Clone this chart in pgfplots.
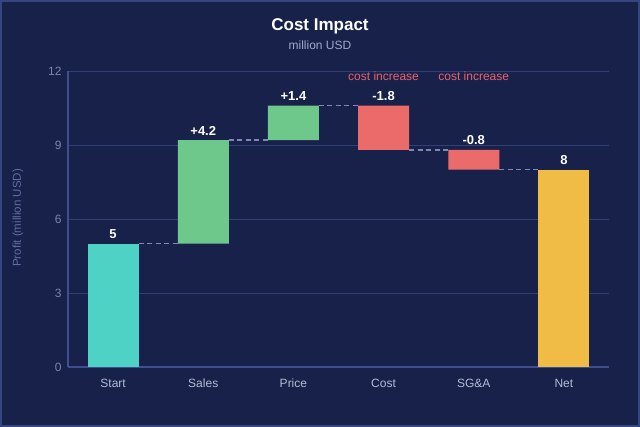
\documentclass[border=0pt]{standalone}
\usepackage{pgfplots}
\usepackage{pgfplotstable}
\pgfplotsset{compat=1.18}
\usepackage{fontspec}
\setmainfont{Liberation Sans}
\definecolor{bg}{HTML}{18214A}
\definecolor{bordc}{HTML}{34457F}
\definecolor{gridc}{HTML}{303F76}
\definecolor{axisc}{HTML}{3E4E8E}
\definecolor{ytc}{HTML}{7C85AD}
\definecolor{xtc}{HTML}{B4BBD6}
\definecolor{ylc}{HTML}{636D9E}
\definecolor{subc}{HTML}{A0A8CC}
\definecolor{connc}{HTML}{7F89B3}
\definecolor{cteal}{HTML}{4ED2C5}
\definecolor{cgreen}{HTML}{6EC88C}
\definecolor{cred}{HTML}{EB6B6B}
\definecolor{cyellow}{HTML}{F0BC46}
\definecolor{ctext}{HTML}{E8646A}
\pgfplotstableread{
x base teal green red yellow
0 0   5   0   0   0
1 5   0   4.2 0   0
2 9.2 0   1.4 0   0
3 8.8 0   0   1.8 0
4 8.0 0   0   0.8 0
5 0   0   0   0   8
}\wfdata
\tikzset{vlab/.style={font=\bfseries\fontsize{13}{15}\selectfont, text=white, anchor=south, yshift=1.5pt}}
\begin{document}
\begin{tikzpicture}[x=1pt,y=1pt]
\fill[bg] (0,0) rectangle (640,427);
\draw[bordc, line width=2pt] (1,1) rectangle (639,426);
\node[font=\bfseries\fontsize{17}{20}\selectfont, text=white] at (320,401) {Cost Impact};
\node[font=\fontsize{12}{14}\selectfont, text=subc] at (320,382) {million USD};
\node[font=\fontsize{11.5}{13}\selectfont, text=ylc, rotate=90] at (18,209) {Profit (million USD)};
\begin{axis}[at={(68pt,60pt)}, anchor=south west, scale only axis,
  width=541pt, height=296pt,
  xmin=-0.5, xmax=5.5, ymin=0, ymax=12,
  ytick={0,3,6,9,12}, xtick={0,...,5},
  xticklabels={Start,Sales,Price,Cost,SG\&A,Net},
  axis x line*=bottom, axis y line*=left,
  axis line style={color=axisc, line width=1.2pt},
  ymajorgrids, grid style={gridc, line width=0.9pt},
  tick style={draw=none},
  /pgf/number format/assume math mode=true,
  yticklabel style={text=ytc, font=\fontsize{12}{14}\selectfont, xshift=-3pt},
  xticklabel style={text=xtc, font=\fontsize{12}{14}\selectfont, yshift=-8pt, text height=8.7pt, text depth=2.5pt},
  clip=false]
\addplot[connc, dash pattern=on 5pt off 3.5pt, line width=1.5pt, no markers] coordinates {(0.283,5) (0.717,5)};
\addplot[connc, dash pattern=on 5pt off 3.5pt, line width=1.5pt, no markers] coordinates {(1.283,9.2) (1.717,9.2)};
\addplot[connc, dash pattern=on 5pt off 3.5pt, line width=1.5pt, no markers] coordinates {(2.283,10.6) (2.717,10.6)};
\addplot[connc, dash pattern=on 5pt off 3.5pt, line width=1.5pt, no markers] coordinates {(3.283,8.8) (3.717,8.8)};
\addplot[connc, dash pattern=on 5pt off 3.5pt, line width=1.5pt, no markers] coordinates {(4.283,8.0) (4.717,8.0)};
\end{axis}
\begin{axis}[at={(68pt,60pt)}, anchor=south west, scale only axis,
  width=541pt, height=296pt,
  xmin=-0.5, xmax=5.5, ymin=0, ymax=12,
  hide axis, ybar stacked, bar width=51pt, clip=false]
\addplot[draw=none, fill=none] table[x=x, y=base] {\wfdata};
\addplot[draw=none, fill=cteal] table[x=x, y=teal] {\wfdata};
\addplot[draw=none, fill=cgreen] table[x=x, y=green] {\wfdata};
\addplot[draw=none, fill=cred] table[x=x, y=red] {\wfdata};
\addplot[draw=none, fill=cyellow] table[x=x, y=yellow] {\wfdata};
\node[vlab] at (axis cs:0,5) {5};
\node[vlab] at (axis cs:1,9.2) {+4.2};
\node[vlab] at (axis cs:2,10.6) {+1.4};
\node[vlab] at (axis cs:3,10.6) {-1.8};
\node[vlab] at (axis cs:4,8.8) {-0.8};
\node[vlab] at (axis cs:5,8) {8};
\node[font=\fontsize{12}{14}\selectfont, text=ctext] at (axis cs:3,11.8) {cost increase};
\node[font=\fontsize{12}{14}\selectfont, text=ctext] at (axis cs:4,11.8) {cost increase};
\end{axis}
\end{tikzpicture}
\end{document}
